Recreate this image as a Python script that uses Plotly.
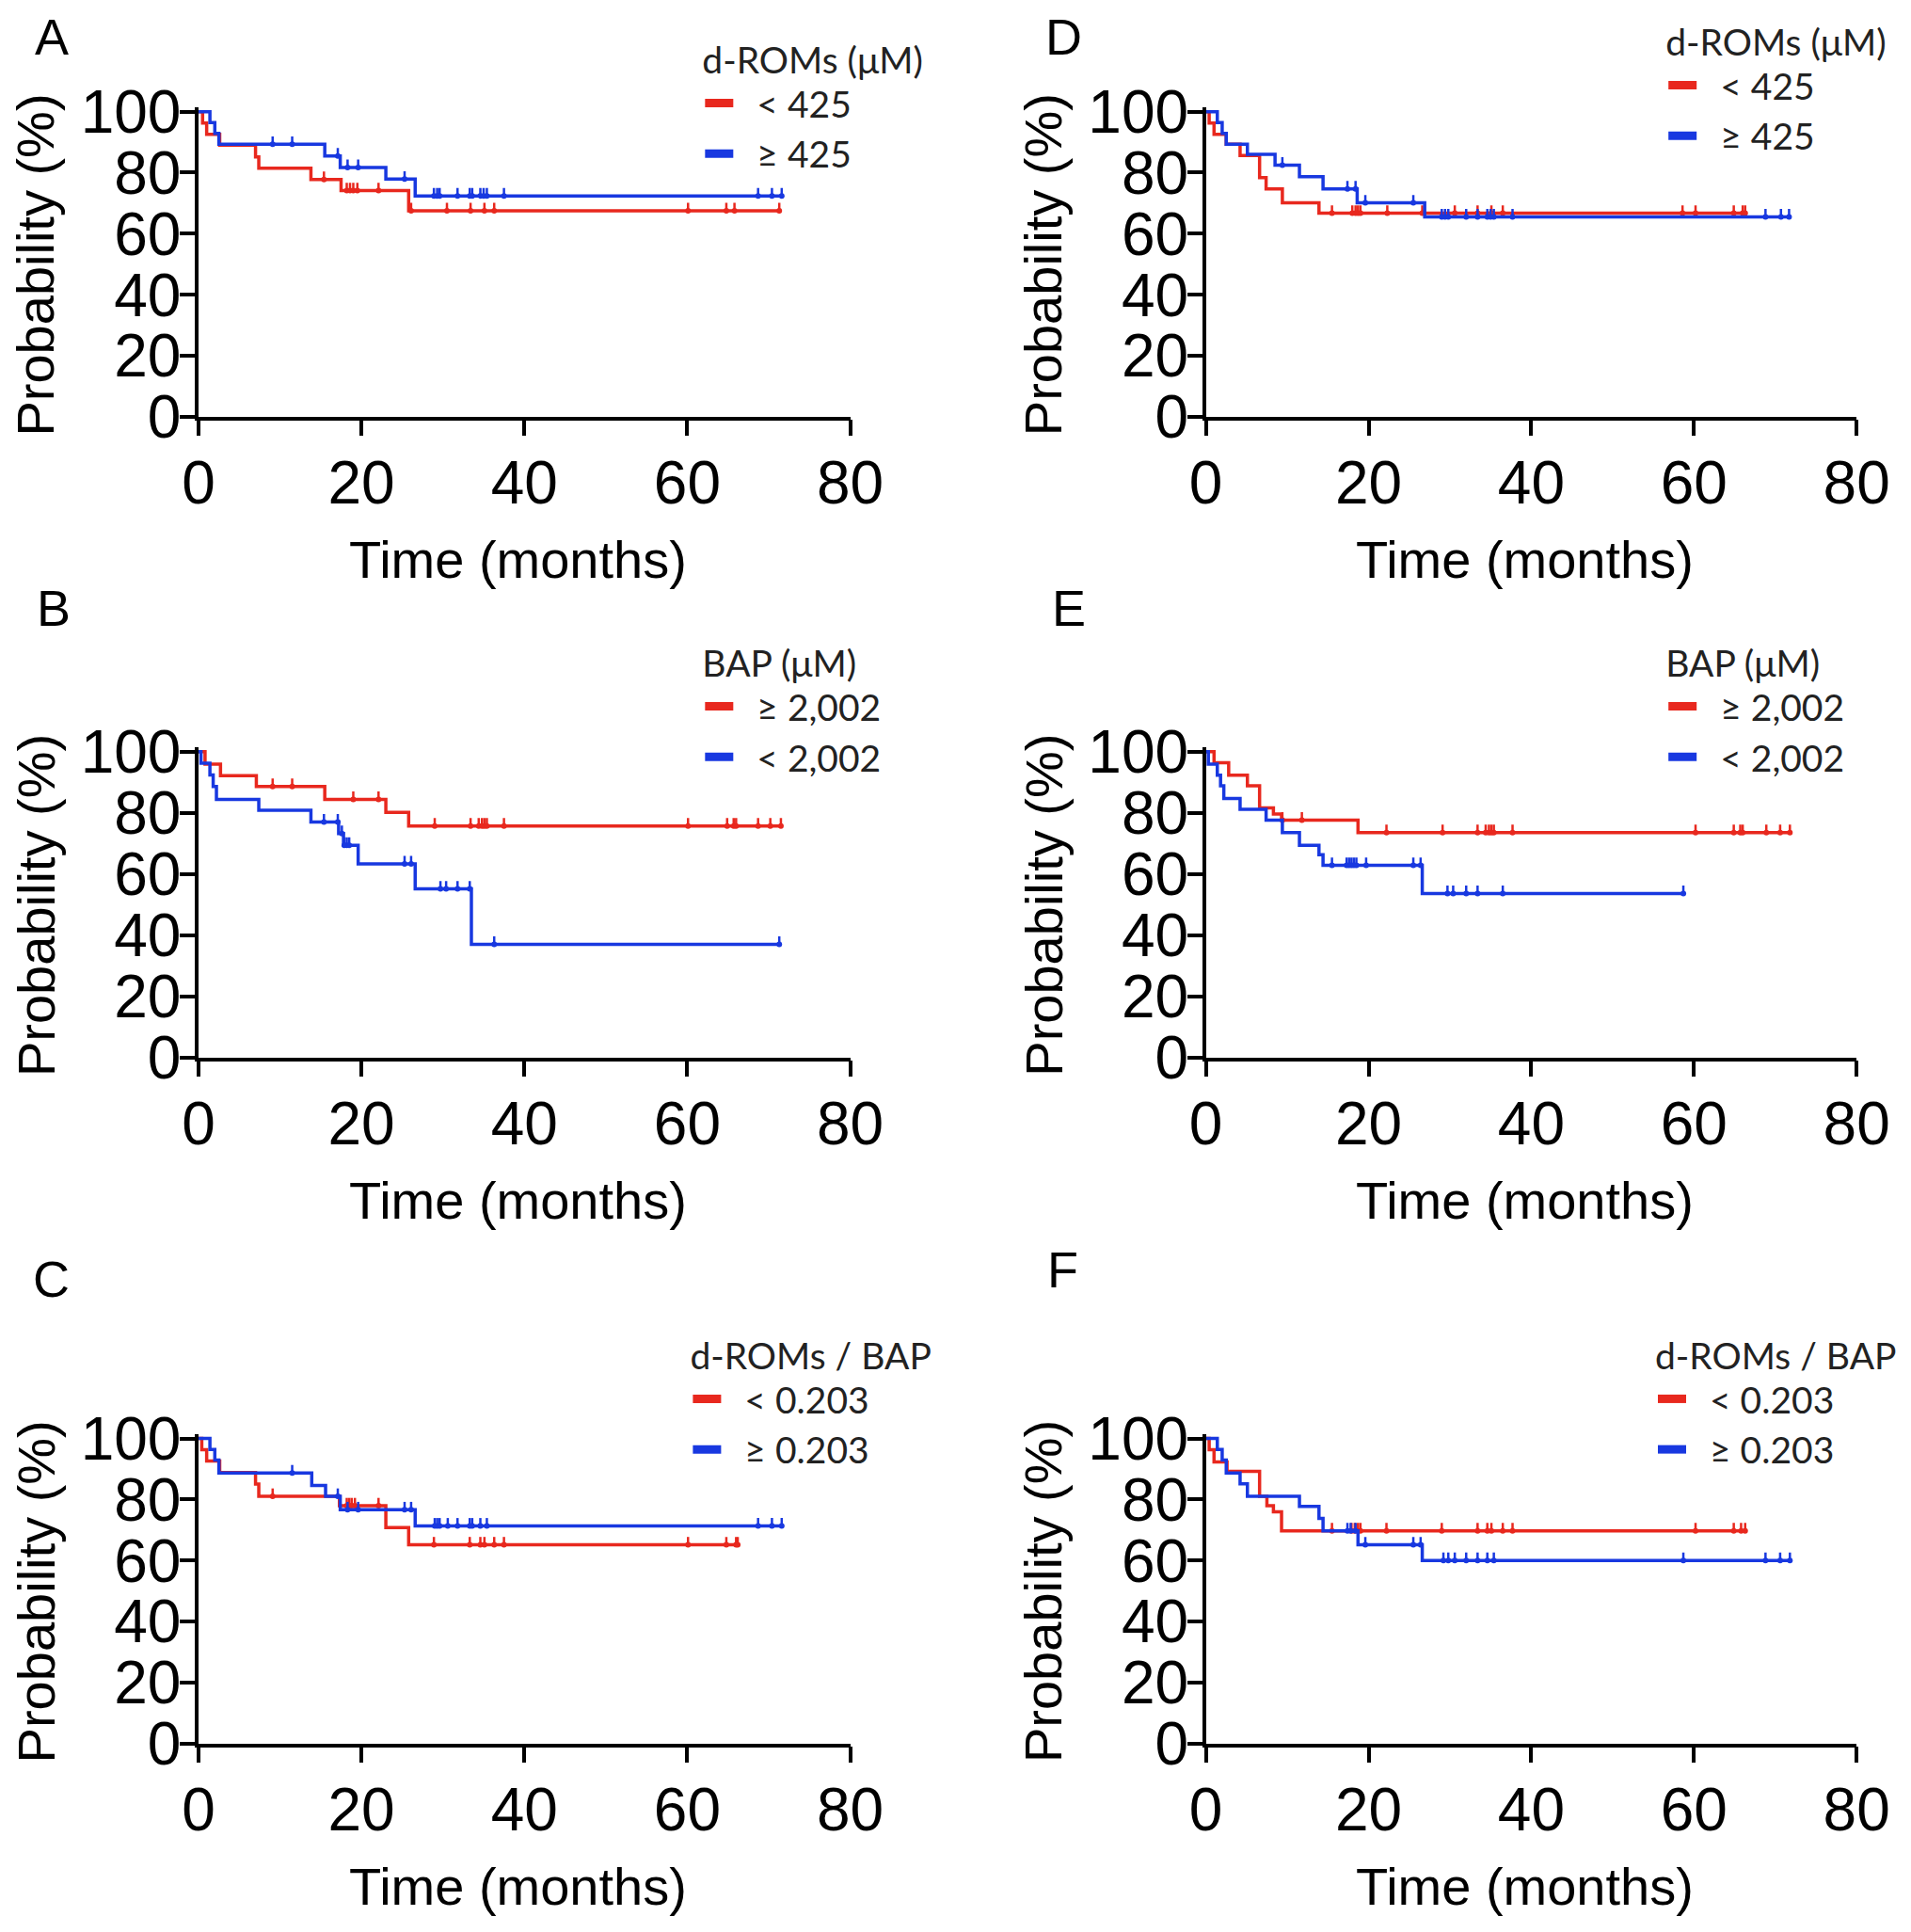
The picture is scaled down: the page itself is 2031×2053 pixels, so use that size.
import plotly.graph_objects as go

OFF = 8                      # page body margin of the browser
W, H = 2010, 2032            # figure size (fits inside the 2031x2053 window)
RED = "#E8281E"
BLUE = "#1838E0"

# ---------------- data (time in months, survival probability in %) ----------------
A_red_t = [0.5, 1.0, 2.6, 7.0, 7.4, 13.8, 17.5, 25.8]
A_red_s = [96.3, 92.6, 89.0, 85.2, 81.5, 77.8, 74.1, 67.5]
A_red_c = [15.4, 18.2, 18.6, 19.0, 19.5, 22.1, 26.1, 30.5, 33.4, 35.1, 36.3, 60.1, 64.8, 65.8, 71.3]
A_blue_t = [1.4, 2.0, 2.5, 15.5, 17.4, 23.0, 26.6]
A_blue_s = [96.4, 92.9, 89.3, 85.5, 81.7, 77.9, 72.4]
A_blue_c = [9.1, 11.5, 17.1, 18.3, 19.6, 25.3, 28.9, 29.3, 29.6, 31.8, 33.3, 33.6, 34.6, 35.0, 35.4, 37.5, 68.7, 70.4, 71.6]

B_red_t = [0.8, 2.7, 7.1, 15.5, 23.0, 25.8]
B_red_s = [95.9, 92.1, 88.6, 84.4, 80.1, 75.7]
B_red_c = [9.1, 11.5, 19.0, 22.1, 29.0, 33.4, 34.4, 34.8, 35.1, 35.4, 37.5, 60.1, 64.9, 65.7, 66.0, 68.7, 70.2, 71.5]
B_blue_t = [0.3, 1.4, 1.8, 2.2, 7.4, 13.8, 17.2, 17.8, 19.6, 26.6, 33.5]
B_blue_s = [96.2, 92.4, 88.6, 84.4, 80.8, 77.0, 73.2, 69.4, 63.3, 55.1, 37.0]
B_blue_c = [15.4, 17.1, 17.6, 17.9, 18.2, 18.5, 25.3, 26.1, 29.7, 30.4, 31.8, 33.3, 36.3, 71.3]

C_red_t = [0.4, 1.0, 2.6, 7.0, 7.4, 17.3, 23.0, 25.8]
C_red_s = [96.3, 92.6, 88.8, 85.0, 81.0, 77.9, 70.8, 65.1]
C_red_c = [9.1, 18.2, 18.5, 18.8, 19.2, 22.1, 28.9, 33.3, 34.6, 35.1, 36.3, 37.5, 60.1, 64.8, 66.0, 66.2]
C_blue_t = [1.4, 2.0, 2.5, 13.9, 15.6, 17.4, 26.6]
C_blue_s = [96.4, 92.9, 88.7, 84.6, 81.0, 76.6, 71.3]
C_blue_c = [11.5, 17.1, 18.3, 19.6, 25.3, 26.1, 29.0, 29.3, 29.6, 30.6, 31.8, 33.3, 33.6, 34.6, 35.4, 68.7, 70.4, 71.6]

D_red_t = [0.4, 1.0, 2.5, 4.2, 6.6, 7.4, 9.4, 13.9]
D_red_s = [96.3, 92.6, 89.3, 85.6, 78.4, 74.7, 70.1, 66.7]
D_red_c = [15.5, 18.0, 18.4, 18.7, 19.0, 22.3, 26.6, 30.6, 33.4, 35.1, 36.5, 58.6, 60.2, 64.9, 66.0, 66.3]
D_blue_t = [1.4, 2.0, 2.5, 5.1, 8.5, 11.5, 14.4, 18.6, 26.9]
D_blue_s = [96.4, 92.9, 89.3, 86.0, 82.5, 78.7, 74.7, 70.1, 65.5]
D_blue_c = [9.4, 17.4, 18.4, 19.6, 25.5, 29.0, 29.4, 29.8, 32.0, 33.4, 34.6, 35.0, 35.4, 37.7, 68.8, 70.7, 71.7]

E_red_t = [1.0, 2.8, 5.1, 6.6, 8.3, 9.3, 18.7]
E_red_s = [96.4, 92.3, 88.8, 81.6, 79.6, 77.6, 73.5]
E_red_c = [9.4, 11.8, 22.2, 29.1, 33.4, 34.4, 34.8, 35.1, 35.4, 37.7, 60.2, 64.9, 65.7, 66.0, 68.9, 70.6, 71.8]
E_blue_t = [0.3, 1.4, 1.8, 2.2, 4.2, 7.4, 9.4, 11.5, 13.9, 14.4, 26.6]
E_blue_s = [95.9, 92.3, 88.8, 84.7, 81.1, 77.6, 73.5, 69.4, 66.3, 62.8, 53.6]
E_blue_c = [15.5, 17.3, 17.6, 17.9, 18.2, 18.5, 19.7, 25.5, 26.4, 29.7, 30.4, 32.0, 33.4, 36.5, 58.7]

F_red_t = [0.4, 1.0, 2.6, 6.6, 7.5, 8.3, 9.3]
F_red_s = [96.3, 92.3, 89.2, 81.0, 77.9, 75.9, 69.7]
F_red_c = [15.5, 17.9, 18.3, 18.7, 19.0, 22.2, 29.0, 33.4, 34.6, 35.1, 36.5, 37.7, 60.2, 64.9, 65.8, 66.3]
F_blue_t = [1.4, 2.0, 2.5, 4.2, 5.1, 11.5, 13.9, 14.4, 18.7, 26.6]
F_blue_s = [96.4, 92.9, 88.7, 85.1, 81.0, 77.7, 73.8, 69.7, 65.1, 60.0]
F_blue_c = [17.4, 17.8, 18.4, 19.6, 25.5, 26.4, 29.2, 29.8, 30.6, 32.0, 33.4, 34.6, 35.4, 58.7, 68.8, 70.6, 71.8]

legend_titles = {"A": "d-ROMs (μM)", "D": "d-ROMs (μM)", "B": "BAP (μM)", "E": "BAP (μM)",
                 "C": "d-ROMs / BAP", "F": "d-ROMs / BAP"}
legend_names = {"A": ["< 425", "≥ 425"], "D": ["< 425", "≥ 425"],
                "B": ["≥ 2,002", "< 2,002"], "E": ["≥ 2,002", "< 2,002"],
                "C": ["< 0.203", "≥ 0.203"], "F": ["< 0.203", "≥ 0.203"]}
x_ticks = [0, 20, 40, 60, 80]
y_ticks = [0, 20, 40, 60, 80, 100]

data = {
    "A": [(A_red_t, A_red_s, A_red_c), (A_blue_t, A_blue_s, A_blue_c)],
    "B": [(B_red_t, B_red_s, B_red_c), (B_blue_t, B_blue_s, B_blue_c)],
    "C": [(C_red_t, C_red_s, C_red_c), (C_blue_t, C_blue_s, C_blue_c)],
    "D": [(D_red_t, D_red_s, D_red_c), (D_blue_t, D_blue_s, D_blue_c)],
    "E": [(E_red_t, E_red_s, E_red_c), (E_blue_t, E_blue_s, E_blue_c)],
    "F": [(F_red_t, F_red_s, F_red_c), (F_blue_t, F_blue_s, F_blue_c)],
}

# ---------------- layout geometry (screen pixels) ----------------
panels = [
    # key, x0, x1, y(100), y(0), legend left, legend top, label x, label y
    ("A", 212, 908, 113, 438, 748, 21, 55, 33),
    ("D", 1288, 1983, 113, 438, 1777, 2, 1136, 33),
    ("B", 212, 908, 795, 1121, 748, 664, 57, 642),
    ("E", 1288, 1983, 795, 1121, 1777, 664, 1142, 642),
    ("C", 212, 908, 1527, 1852, 735, 1402, 55, 1357),
    ("F", 1288, 1983, 1527, 1852, 1766, 1402, 1135, 1347),
]

YMAX = 101.5
TICKFONT = dict(family="Liberation Sans, Arial, sans-serif", size=64, color="black")
TITLEFONT = dict(family="Liberation Sans, Arial, sans-serif", size=56, color="black")
LEGFONT = dict(family="Lato, Open Sans, sans-serif", size=39, color="#222222")
PAD = "\u00a0\u00a0"


def px(x):
    return (x - OFF) / W


def py(y):
    return 1 - (y - OFF) / H


def step_value(times, surv, t):
    v = 100.0
    for ti, si in zip(times, surv):
        if ti <= t:
            v = si
    return v


fig = go.Figure()
layout = dict(width=W, height=H, margin=dict(l=0, r=0, t=0, b=0, pad=0),
              paper_bgcolor="white", plot_bgcolor="white", annotations=[])

for i, (key, x0, x1, yt, yb, lx, ly, labx, laby) in enumerate(panels, start=1):
    xa = "x" if i == 1 else f"x{i}"
    ya = "y" if i == 1 else f"y{i}"
    lg = "legend" if i == 1 else f"legend{i}"
    ytop_px = yb - (yb - yt) * YMAX / 100.0
    layout[f"xaxis{'' if i == 1 else i}"] = dict(
        domain=[px(x0), px(x1)], range=[0, 80], tickvals=x_ticks, ticks="outside",
        ticklen=17, tickwidth=3.5, tickcolor="black", showline=True, linewidth=3.5,
        linecolor="black", showgrid=False, zeroline=False, tickfont=TICKFONT,
        ticklabelstandoff=-5, anchor=ya, fixedrange=True, automargin=False)
    layout[f"yaxis{'' if i == 1 else i}"] = dict(
        domain=[py(yb), py(ytop_px)], range=[0, YMAX], tickvals=y_ticks,
        ticks="outside", ticklen=16, tickwidth=3.5, tickcolor="black", showline=True,
        linewidth=3.5, linecolor="black", showgrid=False, zeroline=False,
        tickfont=TICKFONT, ticklabelstandoff=-14, anchor=xa, fixedrange=True,
        automargin=False)
    layout[lg] = dict(x=px(lx), y=py(ly), xanchor="left", yanchor="top",
                      bgcolor="rgba(0,0,0,0)", font=LEGFONT, itemwidth=30,
                      tracegroupgap=0,
                      title=dict(text=legend_titles[key], font=LEGFONT))

    for (t, s, c), col, name in zip(data[key], [RED, BLUE], legend_names[key]):
        end = max(c + t)
        fig.add_trace(go.Scatter(
            x=[0] + t + [end], y=[100] + s + [s[-1]], mode="lines",
            line=dict(color=col, width=3.5, shape="hv"), xaxis=xa, yaxis=ya,
            showlegend=False, hoverinfo="skip"))
        cy = [step_value(t, s, ct) for ct in c]
        fig.add_trace(go.Scatter(
            x=c, y=cy, mode="markers", marker=dict(size=0, color=col),
            error_y=dict(type="data", symmetric=False, array=[2.6] * len(c),
                         arrayminus=[0] * len(c), width=0, thickness=2.5, color=col),
            xaxis=xa, yaxis=ya, showlegend=False, hoverinfo="skip"))
        fig.add_trace(go.Scatter(
            x=[None], y=[None], mode="lines", line=dict(color=col, width=9),
            name=PAD + name, legend=lg, xaxis=xa, yaxis=ya, showlegend=True))

    layout["annotations"] += [
        dict(text="Probability (%)", textangle=-90, xref=f"{xa} domain", yref=f"{ya} domain",
             x=0, y=0.49, xshift=-173, showarrow=False, font=TITLEFONT,
             xanchor="center", yanchor="middle"),
        dict(text="Time (months)", xref=f"{xa} domain", yref=f"{ya} domain",
             x=0.49, y=0, yshift=-152, showarrow=False, font=TITLEFONT,
             xanchor="center", yanchor="middle"),
        dict(text=key, xref="paper", yref="paper", x=px(labx), y=py(laby),
             showarrow=False, xanchor="center", yanchor="middle",
             font=dict(family="Liberation Sans, Arial, sans-serif", size=54, color="black")),
    ]

fig.update_layout(**layout)
fig.write_html("out.html")
